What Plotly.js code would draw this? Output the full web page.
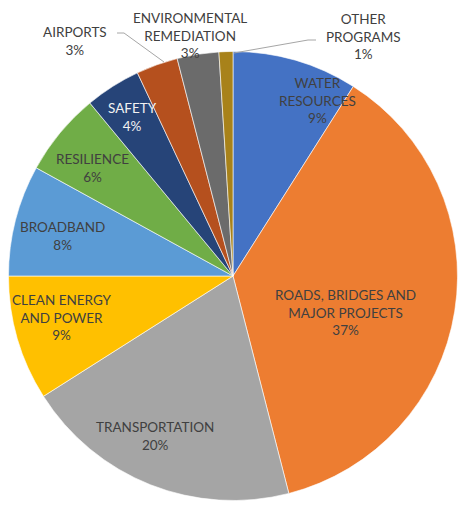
<!DOCTYPE html>
<html>
<head>
<meta charset="utf-8">
<script src="https://cdn.plot.ly/plotly-3.0.1.min.js"></script>
<style>html,body{margin:0;padding:0;background:#fff;}#chart{width:459px;height:505px;}</style>
</head>
<body>
<div id="chart"></div>
<script>
// Data (clockwise from 12 o'clock)
const categories = ["WATER RESOURCES", "ROADS, BRIDGES AND MAJOR PROJECTS", "TRANSPORTATION", "CLEAN ENERGY AND POWER", "BROADBAND", "RESILIENCE", "SAFETY", "AIRPORTS", "ENVIRONMENTAL REMEDIATION", "OTHER PROGRAMS"];
const labelLines = ["WATER<br>RESOURCES", "ROADS, BRIDGES AND<br>MAJOR PROJECTS", "TRANSPORTATION", "CLEAN ENERGY<br>AND POWER", "BROADBAND", "RESILIENCE", "SAFETY", "AIRPORTS", "ENVIRONMENTAL<br>REMEDIATION", "OTHER<br>PROGRAMS"];
const shares = [9, 37, 20, 9, 8, 6, 4, 3, 3, 1];

// Styling
const colors = ["#4472C4", "#ED7D31", "#A5A5A5", "#FFC000", "#5B9BD5", "#70AD47", "#264478", "#B5501E", "#6B6B6B", "#A8821A"];
const W = 459, H = 505;
// label centre positions in pixels (x, y of centre of text block)
const labelPos = [[317,101],[345,312],[155,436],[62,317],[62,236],[92,168],[132,117],[75,41],[190,35],[363,37]];
const labelColor = ["#404040","#404040","#404040","#404040","#404040","#404040","#F2F2F2","#404040","#404040","#404040"];

const total = shares.reduce((a,b)=>a+b,0);
const px = x => x / W, py = y => 1 - y / H;

const annotations = categories.map((c, i) => ({
  text: labelLines[i] + "<br>" + Math.round(shares[i] / total * 100) + "%",
  x: px(labelPos[i][0]), y: py(labelPos[i][1]),
  xref: "paper", yref: "paper", xanchor: "center", yanchor: "middle",
  showarrow: false, align: "center",
  font: {family: "Lato, 'Open Sans', sans-serif", size: 13.5, color: labelColor[i]}
}));

const leader = "#A6A6A6";
const shapes = [
  {type: "path", xref: "paper", yref: "paper", path: `M ${px(117)} ${py(33)} L ${px(124)} ${py(33)} L ${px(164)} ${py(62)}`, line: {color: leader, width: 1}},
  {type: "path", xref: "paper", yref: "paper", path: `M ${px(316)} ${py(40)} L ${px(308)} ${py(40)} L ${px(234)} ${py(53)}`, line: {color: leader, width: 1}}
];

const trace = {
  type: "pie",
  labels: categories,
  values: shares,
  sort: false,
  direction: "clockwise",
  rotation: 0,
  textinfo: "none",
  hoverinfo: "label+percent",
  marker: {colors: colors, line: {color: "#FFFFFF", width: 0.6}},
  domain: {x: [(233 - 224.5) / W, (233 + 224.5) / W], y: [(229 - 224.5) / H, (229 + 224.5) / H]},
  showlegend: false
};

Plotly.newPlot("chart", [trace], {
  width: W, height: H,
  margin: {l: 0, r: 0, t: 0, b: 0},
  paper_bgcolor: "#FFFFFF",
  showlegend: false,
  annotations: annotations,
  shapes: shapes
}, {displayModeBar: false, staticPlot: true});
</script>
</body>
</html>
